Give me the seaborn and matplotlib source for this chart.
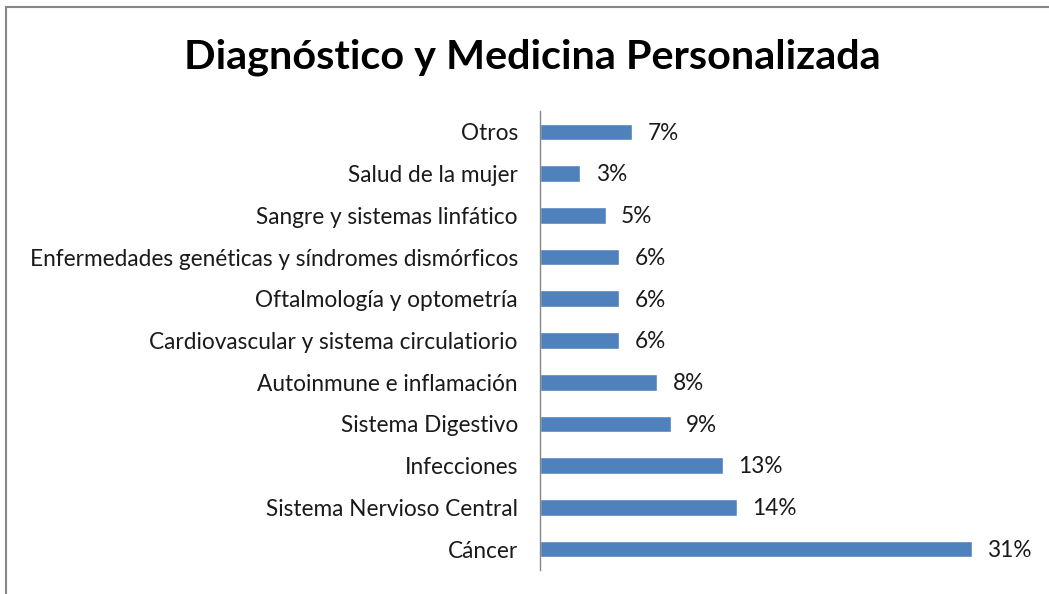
import matplotlib
matplotlib.use("Agg")
import matplotlib.pyplot as plt
import seaborn as sns
import pandas as pd
from matplotlib.patches import Rectangle

categories = [
    "Otros",
    "Salud de la mujer",
    "Sangre y sistemas linfático",
    "Enfermedades genéticas y síndromes dismórficos",
    "Oftalmología y optometría",
    "Cardiovascular y sistema circulatiorio",
    "Autoinmune e inflamación",
    "Sistema Digestivo",
    "Infecciones",
    "Sistema Nervioso Central",
    "Cáncer",
]
values = [6.6, 2.9, 4.7, 5.7, 5.7, 5.7, 8.4, 9.4, 13.1, 14.1, 31.0]
labels = ["7%", "3%", "5%", "6%", "6%", "6%", "8%", "9%", "13%", "14%", "31%"]
title = "Diagnóstico y Medicina Personalizada"

df = pd.DataFrame({"categoria": categories, "valor": values})

sns.set_theme(style="white")
plt.rcParams["font.family"] = ["Lato", "DejaVu Sans"]

W, H = 1049, 594
fig = plt.figure(figsize=(W / 100, H / 100), dpi=100)
ax = fig.add_axes([540 / W, 1 - 570 / H, (1035 - 540) / W, (570 - 111) / H])

sns.barplot(data=df, y="categoria", x="valor", orient="h", color="#4F81BD",
            saturation=1, width=0.4, ax=ax, order=categories)

ax.set_xlim(0, (1035 - 540) / 13.94)
ax.set_ylim(len(categories) - 0.5, -0.5)
ax.set_xlabel("")
ax.set_ylabel("")
ax.set_xticks([])
for s in ["top", "right", "bottom"]:
    ax.spines[s].set_visible(False)
ax.spines["left"].set_color("#868686")
ax.spines["left"].set_linewidth(1.0)
ax.tick_params(axis="y", length=0, pad=16, labelsize=16.3, labelcolor="#1a1a1a")

for i, (v, lab) in enumerate(zip(values, labels)):
    ax.text(v + 1.1, i + 0.03, lab, va="center", ha="left", fontsize=16.3, color="#1a1a1a")

fig.text(532 / W, 1 - 57 / H, title, ha="center", va="center",
         fontsize=29.8, fontweight="bold", color="black")

# outer chart border (left and top visible)
fig.patches.append(Rectangle((6 / W, -0.1), 1.2, 1 - 7 / H + 0.1, transform=fig.transFigure,
                             fill=False, edgecolor="#868686", linewidth=1.5))

fig.savefig("out.png", dpi=100)
